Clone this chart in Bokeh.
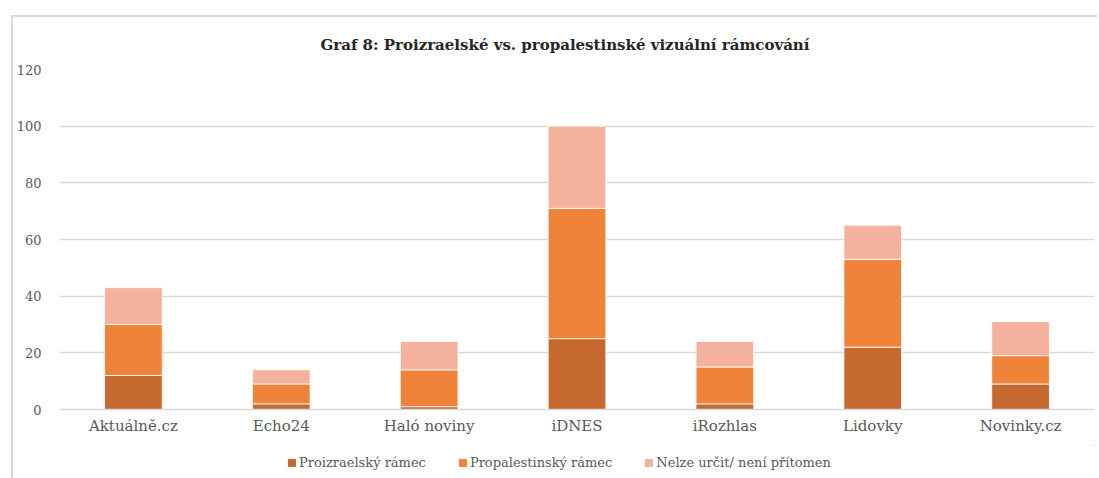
from bokeh.plotting import figure
from bokeh.layouts import column
from bokeh.models import Legend, LegendItem, FactorRange, Range1d, FixedTicker, ColumnDataSource
from bokeh.embed import file_html
from bokeh.resources import INLINE

categories = ["Aktuálně.cz", "Echo24", "Haló noviny", "iDNES", "iRozhlas", "Lidovky", "Novinky.cz"]
proizraelsky = [12, 2, 1, 25, 2, 22, 9]
propalestinsky = [18, 7, 13, 46, 13, 31, 10]
nelze = [13, 5, 10, 29, 9, 12, 12]
series_keys = ["proizraelsky", "propalestinsky", "nelze"]
series_names = ["Proizraelský rámec", "Propalestinský rámec", "Nelze určit/ není přítomen"]
colors = ["#C5692F", "#F0833A", "#F4B29C"]
y_ticks = [0, 20, 40, 60, 80, 100, 120]
title_text = "Graf 8: Proizraelské vs. propalestinské vizuální rámcování"

BORDER = "2px solid #d9d9d9"
TEXT = "#595959"

source = ColumnDataSource(data=dict(cat=categories, proizraelsky=proizraelsky,
                                    propalestinsky=propalestinsky, nelze=nelze))

p = figure(x_range=FactorRange(*categories), y_range=Range1d(0, 120),
           width=1086, height=430, output_backend="svg", toolbar_location=None,
           min_border_left=43, min_border_top=52, min_border_right=5, min_border_bottom=38)
p.styles = {"border-left": BORDER, "border-top": BORDER}

p.title.text = title_text
p.title.align = "left"
p.title.offset = 261
p.title.standoff = 32
p.title.text_font = "DejaVu Serif"
p.title.text_font_style = "bold"
p.title.text_font_size = "15px"
p.title.text_color = "#262626"

renderers = p.vbar_stack(series_keys, x="cat", width=0.39, source=source, color=colors,
                         line_color="white", line_width=0.8)

p.outline_line_color = None
p.xgrid.grid_line_color = None
p.ygrid.grid_line_color = "#d9d9d9"
p.ygrid.grid_line_width = 1.5
p.yaxis.ticker = FixedTicker(ticks=y_ticks)
p.yaxis.axis_line_color = None
p.yaxis.major_tick_line_color = None
p.yaxis.minor_tick_line_color = None
p.yaxis.major_label_text_font = "DejaVu Serif"
p.yaxis.major_label_text_font_size = "13px"
p.yaxis.major_label_text_color = TEXT
p.yaxis.major_label_standoff = 12

p.xaxis.axis_line_color = "#d9d9d9"
p.xaxis.axis_line_width = 1.5
p.xaxis.major_tick_line_color = None
p.xaxis.minor_tick_line_color = None
p.xaxis.major_label_text_font = "DejaVu Serif"
p.xaxis.major_label_text_font_size = "15px"
p.xaxis.major_label_text_color = TEXT
p.xaxis.major_label_standoff = 1

# legend strip below the chart (its glyphs sit outside its visible range)
leg = figure(width=1086, height=33, x_range=Range1d(0, 1), y_range=Range1d(0, 1),
             output_backend="svg", toolbar_location=None,
             min_border_left=0, min_border_right=0, min_border_top=0, min_border_bottom=0)
leg.styles = {"border-left": BORDER}
leg.axis.visible = False
leg.grid.visible = False
leg.outline_line_color = None
leg_renderers = [leg.vbar(x=[5], bottom=[5], top=[6], width=0.1, color=c) for c in colors]

legend = Legend(items=[LegendItem(label=n, renderers=[r]) for n, r in zip(series_names, leg_renderers)],
                orientation="horizontal", location=(228, 8),
                label_text_font="DejaVu Serif", label_text_font_size="13px",
                label_text_color=TEXT, glyph_width=9, glyph_height=9,
                label_standoff=3, spacing=32, padding=2, margin=0,
                border_line_color=None, background_fill_alpha=0)
leg.add_layout(legend, "center")

layout = column(p, leg, spacing=0)
layout.styles = {"margin-left": "11px", "margin-top": "15px"}

open("out.html", "w").write(file_html(layout, INLINE))
